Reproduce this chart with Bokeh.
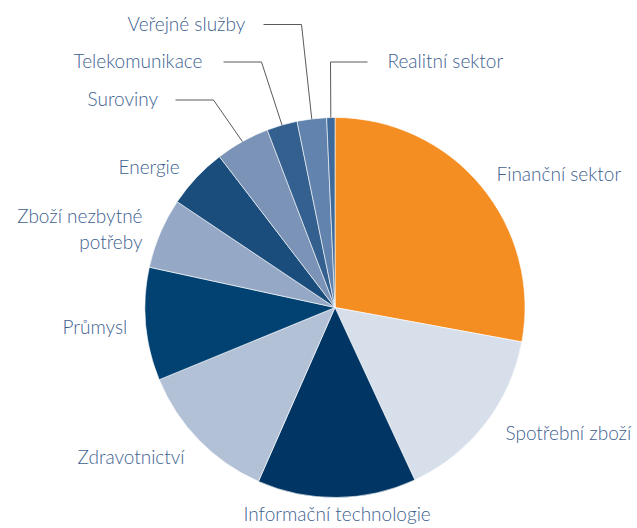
import math
from bokeh.plotting import figure
from bokeh.models import Range1d, ColumnDataSource
from bokeh.core.properties import value
from bokeh.embed import file_html
from bokeh.resources import INLINE

# ---- data ----
sectors = ["Finanční sektor", "Spotřební zboží", "Informační technologie", "Zdravotnictví",
           "Průmysl", "Zboží nezbytné\npotřeby", "Energie", "Suroviny", "Telekomunikace",
           "Veřejné služby", "Realitní sektor"]
shares = [27.9, 15.2, 13.5, 12.2, 9.6, 6.0, 5.2, 4.6, 2.6, 2.5, 0.7]
colors = ["#F58E22", "#D7DFEA", "#013564", "#B3C1D7", "#014272", "#95A9C6",
          "#1A4D7C", "#7A93B6", "#33608E", "#6283AD", "#3D6A9A"]

# ---- layout (reference pixel coordinates; y measured from top) ----
W, H = 637, 528
CX, CY, R = 334.5, 307.0, 190.0
label_pos = {
    "Finanční sektor": (496, 173, "left"),
    "Spotřební zboží": (505, 432, "left"),
    "Informační technologie": (243, 513, "left"),
    "Zdravotnictví": (77, 456, "left"),
    "Průmysl": (62, 326, "left"),
    "Zboží nezbytné\npotřeby": (142, 215, "right"),
    "Energie": (118, 166, "left"),
    "Suroviny": (87, 98, "left"),
    "Telekomunikace": (73, 60, "left"),
    "Veřejné služby": (127, 23, "left"),
    "Realitní sektor": (387, 60, "left"),
}
leader_elbow = {
    "Suroviny": [(175, 99.5), (213, 99.5)],
    "Telekomunikace": [(223, 61.5), (261, 61.5)],
    "Veřejné služby": [(263, 24), (301, 24)],
    "Realitní sektor": [(367, 61.5), (330, 61.5)],
}
LINE_H = 26
FONT = "Lato Light, Lato, Liberation Sans"
TXT = "#3E6290"


def dy(y):
    return H - y


p = figure(width=W, height=H, output_backend="svg", toolbar_location=None,
           x_range=Range1d(0, W), y_range=Range1d(0, H), min_border=0)
p.axis.visible = False
p.grid.visible = False
p.outline_line_color = None
p.background_fill_color = "white"
p.border_fill_color = "white"

total = sum(shares)
starts, ends, mids = [], [], []
cum = 0.0
for s in shares:
    a0 = math.pi / 2 - 2 * math.pi * cum / total
    cum += s
    a1 = math.pi / 2 - 2 * math.pi * cum / total
    starts.append(a0)
    ends.append(a1)
    mids.append((a0 + a1) / 2)

src = ColumnDataSource(dict(start=starts, end=ends, color=colors))
p.wedge(x=CX, y=dy(CY), radius=R, start_angle="start", end_angle="end", direction="clock",
        fill_color="color", line_color="white", line_width=0.6, source=src)

# leader lines
for name, pts in leader_elbow.items():
    i = sectors.index(name)
    ex = CX + R * math.cos(mids[i])
    ey = dy(CY) + R * math.sin(mids[i])
    xs = [pts[0][0], pts[1][0], ex]
    ys = [dy(pts[0][1]), dy(pts[1][1]), ey]
    p.line(xs, ys, line_color="#5a5a5a", line_width=1)

# labels
tx, ty, tt, ta = [], [], [], []
for name in sectors:
    x, y, al = label_pos[name]
    for k, part in enumerate(name.split("\n")):
        tx.append(x)
        ty.append(dy(y + k * LINE_H))
        tt.append(part)
        ta.append(al)
lsrc = ColumnDataSource(dict(x=tx, y=ty, text=tt, align=ta))
p.text(x="x", y="y", text="text", text_align="align", text_baseline="alphabetic",
       text_font=value(FONT), text_font_size="19px", text_color=TXT, source=lsrc)

open("out.html", "w").write(file_html(p, INLINE))
